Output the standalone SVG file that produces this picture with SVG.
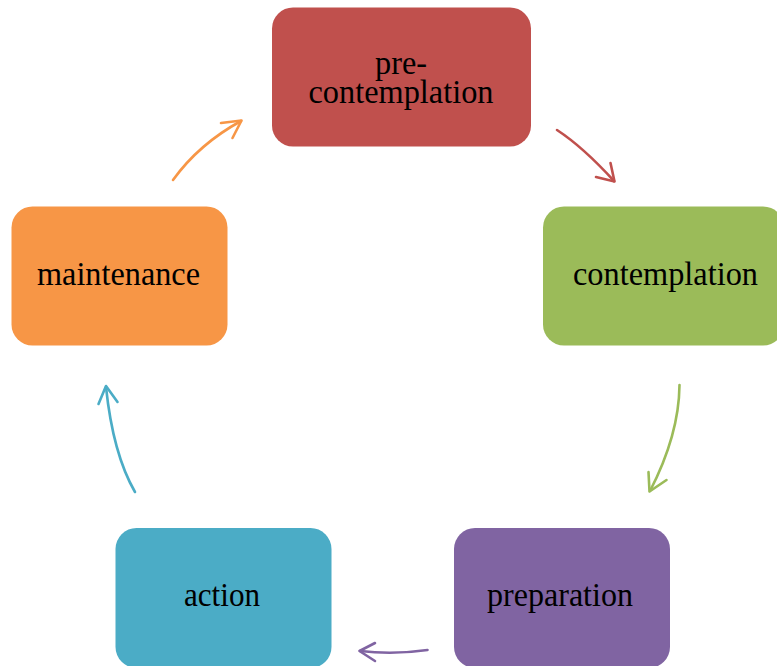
<svg xmlns="http://www.w3.org/2000/svg" width="777" height="666" viewBox="0 0 777 666">
  <style>
    .box { stroke: none; }
    .lbl { font-family: "Liberation Serif", "Times New Roman", serif; font-size: 33px; fill: #000; text-anchor: middle; }
    .arr { fill: none; stroke-width: 2.6; stroke-linecap: round; stroke-linejoin: round; }
  </style>
  <rect width="777" height="666" fill="#ffffff"/>
  <g id="node-precontemplation">
    <rect class="box" x="272" y="7.5" width="259" height="139" rx="21" fill="#c0504d"/>
    <text class="lbl" x="401" y="74" textLength="52" lengthAdjust="spacingAndGlyphs">pre-</text>
    <text class="lbl" x="401" y="103" textLength="185" lengthAdjust="spacingAndGlyphs">contemplation</text>
  </g>
  <g id="node-contemplation">
    <rect class="box" x="543" y="206.5" width="241" height="139" rx="21" fill="#9bbb59"/>
    <text class="lbl" x="665.5" y="285" textLength="185" lengthAdjust="spacingAndGlyphs">contemplation</text>
  </g>
  <g id="node-preparation">
    <rect class="box" x="454" y="528" width="216" height="140" rx="21" fill="#8064a2"/>
    <text class="lbl" x="560" y="606" textLength="146" lengthAdjust="spacingAndGlyphs">preparation</text>
  </g>
  <g id="node-action">
    <rect class="box" x="115.5" y="528" width="216" height="140" rx="21" fill="#4bacc6"/>
    <text class="lbl" x="222" y="606" textLength="76" lengthAdjust="spacingAndGlyphs">action</text>
  </g>
  <g id="node-maintenance">
    <rect class="box" x="11.5" y="206.5" width="216" height="139" rx="21" fill="#f79646"/>
    <text class="lbl" x="118.5" y="284.5" textLength="163" lengthAdjust="spacingAndGlyphs">maintenance</text>
  </g>
  <g id="connectors">
    <g stroke="#c0504d" class="arr">
      <path d="M557,130 Q583,147 614,181"/>
      <path d="M596,177 L614.5,181.5 L610.5,163"/>
    </g>
    <g stroke="#9bbb59" class="arr">
      <path d="M679.5,385 Q679,435 650,491"/>
      <path d="M648.5,472 L649.5,491.5 L666.5,480"/>
    </g>
    <g stroke="#8064a2" class="arr">
      <path d="M427.5,650 Q393,655 360,651"/>
      <path d="M375,643 L359.5,651 L375,661"/>
    </g>
    <g stroke="#4bacc6" class="arr">
      <path d="M135,492 Q113,454 106,387"/>
      <path d="M98.5,404 L106,386 L117.5,402"/>
    </g>
    <g stroke="#f79646" class="arr">
      <path d="M173,180 Q199,144 241,121"/>
      <path d="M221,123 L241.5,120.5 L232.5,138"/>
    </g>
  </g>
</svg>
